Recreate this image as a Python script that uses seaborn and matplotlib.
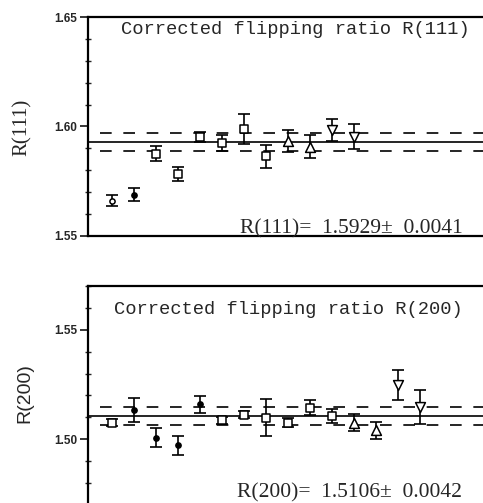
import numpy as np
import pandas as pd
import matplotlib
matplotlib.use("Agg")
import matplotlib.pyplot as plt
from matplotlib.ticker import MultipleLocator
import seaborn as sns

# ---- data: R(111)
r111_idx = [1, 2, 3, 4, 5, 6, 7, 8, 9, 10, 11, 12]
r111_val = [1.5661, 1.5688, 1.5875, 1.5783, 1.5951, 1.5924, 1.5988, 1.5864, 1.5933, 1.5908, 1.5983, 1.5954]
r111_err = [0.0025, 0.0030, 0.0034, 0.0030, 0.0023, 0.0035, 0.0067, 0.0053, 0.0049, 0.0051, 0.0050, 0.0057]
r111_kind = ["ring", "dot", "sq", "sq", "sq", "sq", "sq", "sq", "up", "up", "down", "down"]
r111_mean = 1.5929
r111_sd = 0.0041

# ---- data: R(200)
r200_idx = [1, 2, 3, 4, 5, 6, 7, 8, 9, 10, 11, 12, 13, 14, 15]
r200_val = [1.5076, 1.5135, 1.5008, 1.4972, 1.5159, 1.5087, 1.5113, 1.5099, 1.5076, 1.5145, 1.5107, 1.5076, 1.5041, 1.5248, 1.5148]
r200_err = [0.0015, 0.0055, 0.0043, 0.0043, 0.0038, 0.0015, 0.0015, 0.0084, 0.0019, 0.0035, 0.0033, 0.0040, 0.0040, 0.0067, 0.0078]
r200_kind = ["sq", "dot", "dot", "dot", "dot", "sq", "sq", "sq", "sq", "sq", "sq", "up", "up", "down", "down"]
r200_mean = 1.5106
r200_sd = 0.0042

titles = ["Corrected flipping ratio R(111)", "Corrected flipping ratio R(200)"]
ylabels = ["R(111)", "R(200)"]
results = ["R(111)=  1.5929\u00b1  0.0041", "R(200)=  1.5106\u00b1  0.0042"]

sns.set_style("ticks")
plt.rcParams["font.family"] = ["Liberation Sans", "DejaVu Sans"]

W, H = 483, 503
fig = plt.figure(figsize=(W / 100, H / 100), dpi=100)

marker_style = {
    "ring": dict(marker="o", s=14, facecolor="white"),
    "dot": dict(marker="o", s=14, facecolor="black"),
    "sq": dict(marker="s", s=30, facecolor="white"),
    "up": dict(marker="^", s=50, facecolor="white"),
    "down": dict(marker="v", s=50, facecolor="white"),
}

left_px = 88
right_px = 530
panels = [
    dict(top=17, ylim=(1.55, 1.65), idx=r111_idx, val=r111_val, err=r111_err, kind=r111_kind,
         mean=r111_mean, sd=r111_sd, yticks=[1.55, 1.60, 1.65]),
    dict(top=286, ylim=(1.47, 1.57), idx=r200_idx, val=r200_val, err=r200_err, kind=r200_kind,
         mean=r200_mean, sd=r200_sd, yticks=[1.50, 1.55]),
]

for p in panels:
    h_px = 219
    ax = fig.add_axes([left_px / W, 1 - (p["top"] + h_px) / H, (right_px - left_px) / W, h_px / H])
    x_left = 1 - (112 - left_px) / 22
    x_right = 1 + (right_px - 112) / 22
    ax.set_xlim(x_left, x_right)
    ax.set_ylim(*p["ylim"])

    df = pd.DataFrame({"idx": p["idx"], "val": p["val"], "err": p["err"], "kind": p["kind"]})

    ax.axhline(p["mean"], color="black", lw=1.2, zorder=1)
    for off in (-p["sd"], p["sd"]):
        ax.plot([x_left + 0.55, x_right], [p["mean"] + off] * 2, color="black", lw=1.2,
                dashes=(7, 7), zorder=1)

    ax.errorbar(df["idx"], df["val"], yerr=df["err"], fmt="none", ecolor="black",
                elinewidth=1.2, capsize=4.5, capthick=1.2, zorder=2)
    for k, sub in df.groupby("kind"):
        st = marker_style[k]
        sns.scatterplot(data=sub, x="idx", y="val", ax=ax, marker=st["marker"], s=st["s"],
                        facecolor=st["facecolor"], edgecolor="black", linewidth=1.1,
                        zorder=3, legend=False)

    ax.set_xlabel("")
    ax.set_ylabel("")
    ax.set_xticks([])
    ax.yaxis.set_major_locator(plt.FixedLocator(p["yticks"]))
    ax.yaxis.set_minor_locator(MultipleLocator(0.01))
    ax.set_yticklabels([f"{v:.2f}" for v in p["yticks"]], fontsize=8.5, fontweight="bold")
    ax.tick_params(axis="y", which="major", direction="out", length=6, width=1.3, pad=2)
    ax.tick_params(axis="y", which="minor", direction="inout", length=4, width=1.0)
    for sp in ax.spines.values():
        sp.set_linewidth(1.6)
        sp.set_color("black")
    ax.spines["right"].set_visible(False)
    ax.grid(False)

fig.text(121 / W, 1 - 30 / H, titles[0], family=["Liberation Mono", "DejaVu Sans Mono"],
         fontsize=13.5, va="center", ha="left")
fig.text(114 / W, 1 - 310 / H, titles[1], family=["Liberation Mono", "DejaVu Sans Mono"],
         fontsize=13.5, va="center", ha="left")
fig.text(240 / W, 1 - 233 / H, results[0], family=["Liberation Serif", "DejaVu Serif"],
         fontsize=15.5, va="baseline", ha="left")
fig.text(237 / W, 1 - 497 / H, results[1], family=["Liberation Serif", "DejaVu Serif"],
         fontsize=15.5, va="baseline", ha="left")
fig.text(22 / W, 1 - 127 / H, ylabels[0], family=["Liberation Serif", "DejaVu Serif"],
         fontsize=15, va="center", ha="center", rotation=90)
fig.text(25 / W, 1 - 393 / H, ylabels[1], family=["Liberation Sans", "DejaVu Sans"],
         fontsize=14, va="center", ha="center", rotation=90)

fig.savefig("out.png", dpi=100, facecolor="white")
